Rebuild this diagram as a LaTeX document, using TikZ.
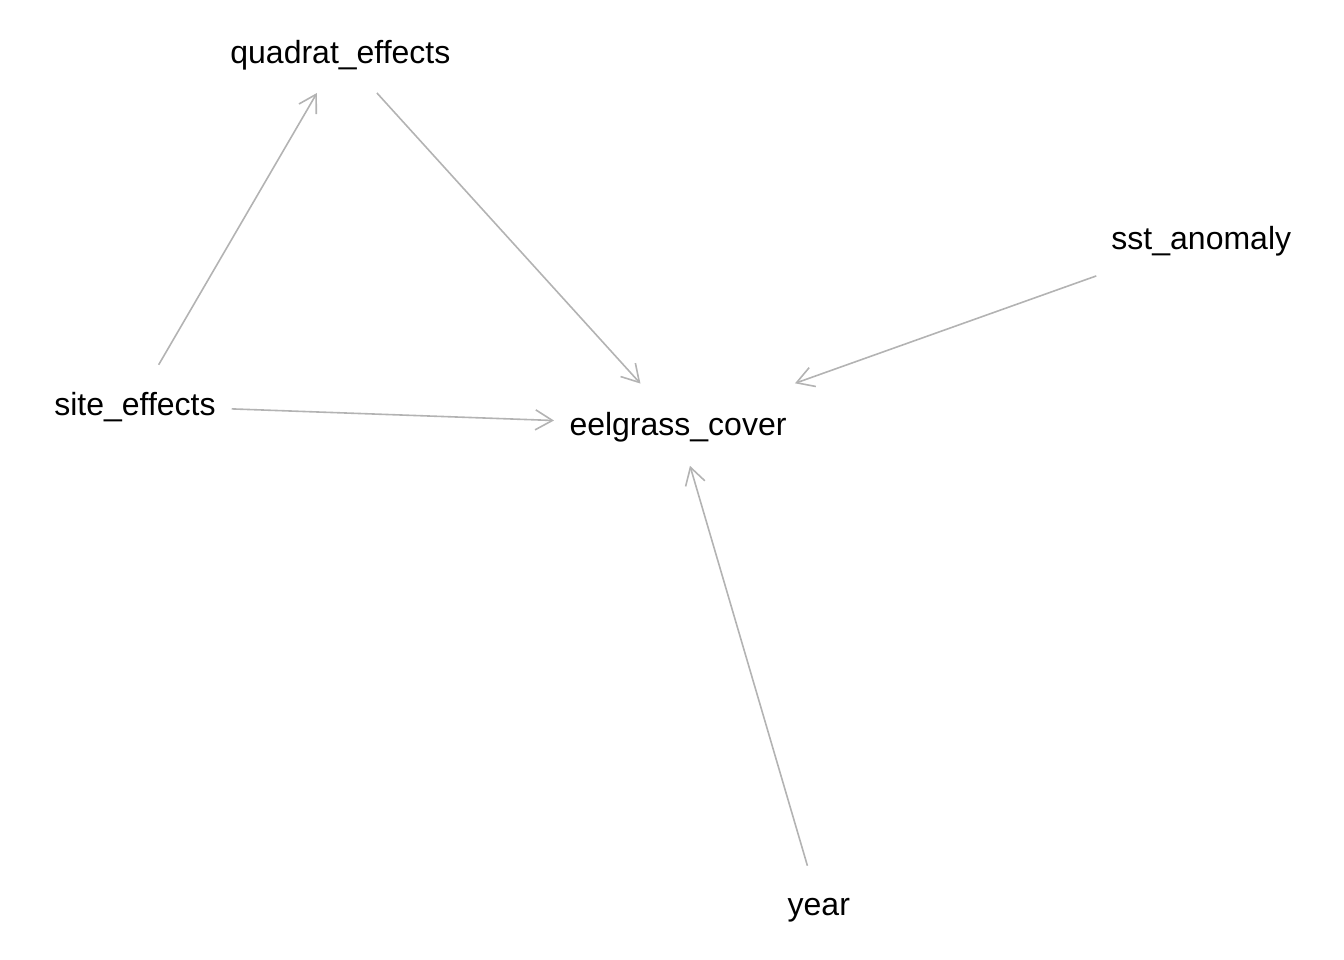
\documentclass[tikz,border=0pt]{standalone}
\usepackage{fontspec}
\setmainfont{Liberation Sans}
\usetikzlibrary{arrows.meta}
\definecolor{edgegray}{RGB}{179,179,179}
\begin{document}
\begin{tikzpicture}[x=1pt,y=-1pt,
  lbl/.style={inner sep=0pt, text height=27pt, text depth=6pt,
    font=\fontsize{32}{38}\selectfont, text=black},
  edge/.style={draw=edgegray, line width=1.6pt,
    -{Straight Barb[length=17pt,width=20pt]}}]
\useasboundingbox (0,0) rectangle (1344,960);
\node[lbl] (quadrat) at (340.4,52.7) {quadrat\_effects};
\node[lbl] (sst) at (1201.3,238.5) {sst\_anomaly};
\node[lbl] (site) at (135,405.4) {site\_effects};
\node[lbl] (eel) at (678,425) {eelgrass\_cover};
\node[lbl] (year) at (818.8,904.5) {year};
\draw[edge, shorten <=47pt, shorten >=46.6pt] (site.center) -- (quadrat.center);
\draw[edge, shorten <=54.4pt, shorten >=55.9pt] (quadrat.center) -- (eel.center);
\draw[edge, shorten <=96.8pt, shorten >=124.1pt] (site.center) -- (eel.center);
\draw[edge, shorten <=111.5pt, shorten >=124.2pt] (sst.center) -- (eel.center);
\draw[edge, shorten <=40.4pt, shorten >=42.5pt] (year.center) -- (eel.center);
\end{tikzpicture}
\end{document}
